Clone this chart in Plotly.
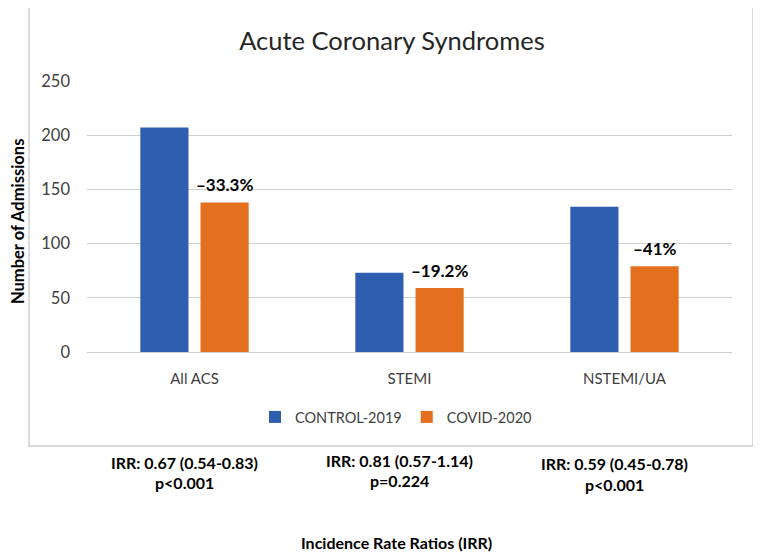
import plotly.graph_objects as go

categories = ["All ACS", "STEMI", "NSTEMI/UA"]
control_2019 = [207, 73, 134]
covid_2020 = [138, 59, 79]
change_labels = ["–33.3%", "–19.2%", "–41%"]
irr_labels = ["IRR: 0.67 (0.54-0.83)", "IRR: 0.81 (0.57-1.14)", "IRR: 0.59 (0.45-0.78)"]
p_labels = ["p&lt;0.001", "p=0.224", "p&lt;0.001"]
y_ticks = [0, 50, 100, 150, 200, 250]

FONT = "Lato"
BLUE = "#2F5DB0"
ORANGE = "#E4701F"

# the page body has an 8px margin; work in window pixels and offset
OFF = 8
W, H = 761 - OFF, 558 - OFF
L, R, T, B = 87 - OFF, 732 - OFF, 81 - OFF, 352 - OFF


def px_x(p):
    return (p - OFF - L) / (R - L)


def px_y(p):
    return (B - (p - OFF)) / (B - T)


fig = go.Figure()
fig.add_trace(go.Bar(x=categories, y=control_2019, name="CONTROL-2019",
                     marker=dict(color=BLUE, line=dict(width=0))))
fig.add_trace(go.Bar(x=categories, y=covid_2020, name="COVID-2020",
                     marker=dict(color=ORANGE, line=dict(width=0))))

annotations = []
for c, v, t in zip(categories, covid_2020, change_labels):
    annotations.append(dict(x=c, y=v, xref="x", yref="y", text=f"<b>{t}</b>",
                            showarrow=False, xshift=30, yshift=18,
                            font=dict(family=FONT, size=17, color="#000000")))

row1_y = [462, 460, 463]
row2_y = [483, 480, 484]
for c, a, p, y1, y2 in zip(categories, irr_labels, p_labels, row1_y, row2_y):
    annotations.append(dict(x=c, y=px_y(y1), xref="x", yref="paper", text=f"<b>{a}</b>",
                            showarrow=False, xshift=-10, yanchor="middle",
                            font=dict(family=FONT, size=16, color="#000000")))
    annotations.append(dict(x=c, y=px_y(y2), xref="x", yref="paper", text=f"<b>{p}</b>",
                            showarrow=False, xshift=-10, yanchor="middle",
                            font=dict(family=FONT, size=16, color="#000000")))

annotations.append(dict(x=px_x(396), y=px_y(542), xref="paper", yref="paper",
                        text="<b>Incidence Rate Ratios (IRR)</b>", showarrow=False,
                        yanchor="middle", font=dict(family=FONT, size=16, color="#000000")))
annotations.append(dict(x=px_x(18), y=px_y(222), xref="paper", yref="paper",
                        text="<b>Number of Admissions</b>", showarrow=False, textangle=-90,
                        xanchor="center", yanchor="middle",
                        font=dict(family=FONT, size=16.5, color="#000000")))

fig.update_layout(
    width=W, height=H,
    margin=dict(l=L, r=W - R, t=T, b=H - B, pad=0),
    paper_bgcolor="white", plot_bgcolor="white",
    font=dict(family=FONT, color="#404040"),
    title=dict(text="Acute Coronary Syndromes", x=(392 - OFF) / W, xanchor="center",
               y=1 - (41 - OFF) / H, yanchor="middle", yref="container",
               font=dict(family=FONT, size=25.5, color="#262626")),
    barmode="group", bargap=0.44, bargroupgap=0.2,
    showlegend=True,
    legend=dict(orientation="h", x=px_x(396), xanchor="center", y=px_y(417), yanchor="middle",
                font=dict(family=FONT, size=14.5, color="#404040"), itemwidth=30,
                bgcolor="rgba(0,0,0,0)"),
    annotations=annotations,
    shapes=[dict(type="rect", xref="paper", yref="paper",
                 x0=px_x(29), x1=px_x(753), y0=px_y(446), y1=px_y(6),
                 line=dict(color="#D0D0D0", width=1.5), fillcolor="rgba(0,0,0,0)", layer="below")],
)

fig.update_xaxes(showline=True, linecolor="#D0D0D0", linewidth=1.3, showgrid=False,
                 ticks="", ticklabelstandoff=13,
                 tickfont=dict(family=FONT, size=15, color="#404040"))
fig.update_yaxes(range=[0, 250], tickvals=y_ticks, showgrid=True, gridcolor="#D0D0D0",
                 gridwidth=1.3, zeroline=False, showline=False, ticks="",
                 ticklabelstandoff=16,
                 tickfont=dict(family=FONT, size=16.5, color="#404040"))

fig.write_html("out.html")
